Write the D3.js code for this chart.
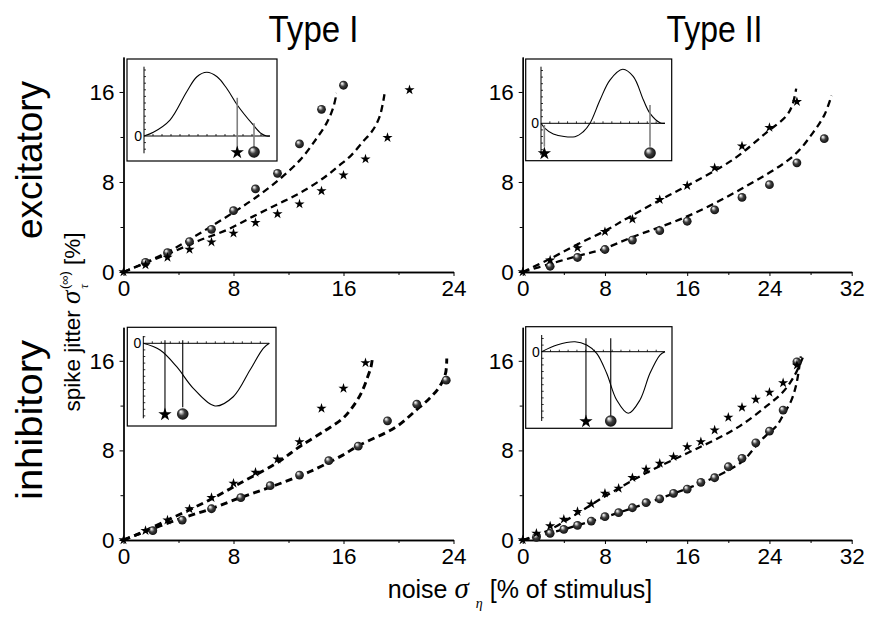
<!DOCTYPE html>
<html><head><meta charset="utf-8">
<script src="https://cdn.jsdelivr.net/npm/d3@7"></script>
<style>
body{margin:0;background:#fff}
svg{display:block}
text{font-family:"Liberation Sans",Arial,Helvetica,sans-serif;fill:#000}
</style>
</head><body>
<svg id="chart" width="869" height="618"></svg>
<script>
// ---------- tick labels ----------
const yTickVals = [0, 8, 16];
const yMinorVals = [4, 12];
const xTickValsI = [0, 8, 16, 24];
const xMinorValsI = [4, 12, 20];
const xTickValsII = [0, 8, 16, 24, 32];
const xMinorValsII = [4, 12, 20, 28];
const colTitles = ["Type I", "Type II"];
const rowTitles = ["excitatory", "inhibitory"];

// ---------- Type I, excitatory ----------
const exc1Spheres = [[1.6,0.86],[3.2,1.72],[4.8,2.7],[6.4,3.79],[8.0,5.45],[9.6,7.38],[11.2,8.77],[12.8,11.38],[14.4,14.46],[16.0,16.6]];
const exc1Stars = [[0,0],[1.6,0.62],[3.2,1.3],[4.8,2.0],[6.4,2.66],[8.0,3.44],[9.6,4.39],[11.2,5.16],[12.8,6.04],[14.4,7.2],[16.0,8.6],[17.6,10.04],[19.2,11.94],[20.8,16.18]];
const exc1SphereFit = [[0,0],[3.1,1.7],[5.5,3.4],[8.0,5.3],[9.6,6.6],[11.2,8.1],[12.8,9.9],[14.0,11.8],[14.8,13.3],[15.25,14.6],[15.5,15.9]];
const exc1StarFit = [[0,0],[3.8,1.9],[5.5,2.8],[7.5,3.73],[9.4,4.92],[11.1,5.96],[12.8,7.0],[14.6,8.4],[15.7,9.48],[16.56,10.37],[17.4,11.56],[18.13,12.6],[18.62,13.79],[18.86,14.98],[18.98,15.8]];

// ---------- Type II, excitatory ----------
const exc2Stars = [[0,0],[2.67,1.05],[5.33,2.15],[8.0,3.58],[10.67,4.69],[13.33,6.42],[16.0,7.67],[18.67,9.26],[21.33,11.19],[24.0,12.84],[26.67,15.13]];
const exc2Spheres = [[2.67,0.51],[5.33,1.29],[8.0,2.0],[10.67,2.84],[13.33,3.67],[16.0,4.51],[18.67,5.52],[21.33,6.63],[24.0,7.76],[26.67,9.7],[29.33,11.85]];
const exc2StarFit = [[0,0],[2.6,1.15],[5.3,2.45],[8.16,3.73],[10.43,4.92],[14.0,6.71],[15.6,7.47],[20.47,10.0],[23.7,12.39],[25.65,13.88],[26.25,14.9],[26.6,16.3]];
const exc2SphereFit = [[0,0],[2.6,0.7],[5.25,1.4],[7.5,1.94],[10.75,3.13],[15.94,4.92],[21.12,7.31],[26.3,10.3],[28.24,12.39],[29.38,14.03],[30.03,15.67]];

// ---------- Type I, inhibitory ----------
const inh1Stars = [[0,0],[1.6,0.83],[3.2,1.78],[4.8,2.77],[6.4,3.78],[8.0,5.06],[9.6,6.04],[11.2,7.22],[12.8,8.77],[14.4,11.75],[16.0,13.53],[17.6,15.82]];
const inh1Spheres = [[2.13,0.83],[4.27,1.78],[6.4,2.79],[8.53,3.78],[10.67,4.85],[12.8,5.8],[14.93,7.08],[17.07,8.38],[19.2,10.64],[21.33,12.13],[23.47,14.27]];
const inh1StarFit = [[0,0],[0.92,0.45],[3.5,1.95],[6.25,3.57],[8.67,5.2],[11.1,6.84],[12.8,8.32],[14.7,9.8],[15.95,10.86],[16.67,11.89],[17.28,13.09],[17.76,14.57],[18.0,15.46],[18.1,16.2]];
const inh1SphereFit = [[0,0],[0.92,0.45],[3.83,1.78],[6.25,2.74],[8.67,3.86],[11.1,4.91],[13.53,6.09],[15.95,7.58],[17.04,8.39],[19.83,10.1],[21.29,11.6],[22.25,12.64],[22.98,13.68],[23.42,14.87],[23.51,16.2]];

// ---------- Type II, inhibitory ----------
const inh2Stars = [[0,0],[1.33,0.6],[2.67,1.25],[4.0,1.85],[5.33,2.53],[6.67,3.21],[8.0,4.17],[9.33,4.61],[10.67,5.56],[12.0,6.3],[13.33,6.84],[14.67,7.43],[16.0,8.32],[17.33,8.77],[18.67,9.81],[20.0,10.95],[21.33,11.84],[22.67,12.55],[24.0,13.18],[25.33,14.03],[26.67,15.6]];
const inh2Spheres = [[1.33,0.24],[2.67,0.6],[4.0,0.95],[5.33,1.31],[6.67,1.69],[8.0,2.08],[9.33,2.44],[10.67,2.88],[12.0,3.33],[13.33,3.68],[14.67,4.17],[16.0,4.55],[17.33,5.15],[18.67,5.56],[20.0,6.54],[21.33,7.29],[22.67,8.68],[24.0,9.72],[25.33,11.6],[26.67,15.91]];
const inh2StarFit = [[0,0],[2.59,0.9],[7.93,3.86],[12.05,6.0],[15.94,7.73],[18.52,8.86],[21.12,10.17],[23.71,11.95],[25.33,13.23],[26.46,14.72],[27.27,16.35]];
const inh2SphereFit = [[0,0],[2.6,0.6],[5.3,1.3],[8.0,2.05],[10.67,2.85],[13.33,3.7],[16.0,4.6],[18.67,5.6],[21.33,7.0],[22.9,8.62],[23.71,9.37],[24.68,10.17],[25.33,11.15],[26.14,12.49],[26.63,13.98],[26.95,15.76],[27.05,16.4]];

// ---------- inset waveforms (phase 0..1, normalised amplitude) ----------
const insetExc1 = [[0,0],[0.074,0.058],[0.206,0.25],[0.339,0.695],[0.42,0.93],[0.498,1.0],[0.58,0.93],[0.656,0.749],[0.74,0.487],[0.867,0.173],[0.93,0.04],[0.974,0],[1,0]];
const insetExc2 = [[0,0],[0.032,-0.093],[0.099,-0.198],[0.274,-0.248],[0.341,-0.156],[0.395,0],[0.476,0.431],[0.556,0.801],[0.659,1.0],[0.745,0.863],[0.826,0.431],[0.879,0.185],[0.96,0.011],[1,0]];
const insetInh1 = [[0,0],[0.133,-0.107],[0.265,-0.373],[0.397,-0.718],[0.569,-1],[0.714,-0.852],[0.847,-0.426],[0.952,-0.08],[1,0]];
const insetInh2 = [[0,0],[0.124,0.109],[0.27,0.162],[0.365,0.109],[0.446,-0.026],[0.527,-0.351],[0.608,-0.784],[0.702,-1.0],[0.797,-0.784],[0.878,-0.351],[0.959,-0.054],[1,0]];
// stimulus phase of the star / sphere markers in each inset
const insetMarksExc1 = [0.74, 0.873];
const insetMarksExc2 = [0.027, 0.879];
const insetMarksInh1 = [0.172, 0.313];
const insetMarksInh2 = [0.359, 0.56];

// =====================================================================
const svg = d3.select("#chart");
const defs = svg.append("defs");
const grad = defs.append("radialGradient").attr("id","sph")
  .attr("cx","0.5").attr("cy","0.5").attr("r","0.6").attr("fx","0.32").attr("fy","0.28");
grad.append("stop").attr("offset","0%").attr("stop-color","#ffffff");
grad.append("stop").attr("offset","15%").attr("stop-color","#d0d0d0");
grad.append("stop").attr("offset","45%").attr("stop-color","#404040");
grad.append("stop").attr("offset","100%").attr("stop-color","#000000");

const panels = [
  {xr:[123.5,453.5], xmax:24, yr:[272,57.1], ymax:19.1, xt:xTickValsI, xm:xMinorValsI,
   stars:exc1Stars, spheres:exc1Spheres, fits:[exc1SphereFit, exc1StarFit], fw:2.3,
   inset:{box:[127,59,277,161], ax:[144,270], zero:136, unit:63.7, yax:[66.7,153.3], curve:insetExc1,
          marks:insetMarksExc1, lines:[[0.6,-0.204],[0.2,-0.204]], my:152.5, lc:"#808080", lw:1.6}},
  {xr:[522.7,851.7], xmax:32, yr:[272,57.1], ymax:19.1, xt:xTickValsII, xm:xMinorValsII,
   stars:exc2Stars, spheres:exc2Spheres, fits:[exc2StarFit, exc2SphereFit], fw:2.3,
   inset:{box:[525.7,59,671.7,160.7], ax:[541,665], zero:123.3, unit:54, yax:[66.7,155], curve:insetExc2,
          marks:insetMarksExc2, lines:[[-0.031,-0.433],[0.339,-0.433]], my:153.5, lc:"#808080", lw:1.6}},
  {xr:[123.5,453.5], xmax:24, yr:[540,327.2], ymax:19, xt:xTickValsI, xm:xMinorValsI,
   stars:inh1Stars, spheres:inh1Spheres, fits:[inh1StarFit, inh1SphereFit], fw:2.9,
   inset:{box:[127.3,327.3,276,426], ax:[143.3,269.3], zero:343.3, unit:62.7, yax:[336,418.3], curve:insetInh1,
          marks:insetMarksInh1, lines:[[0.05,-1.1],[0.05,-1.02]], my:414.5, lc:"#000", lw:1.1}},
  {xr:[522.7,851.7], xmax:32, yr:[540,327.2], ymax:19, xt:xTickValsII, xm:xMinorValsII,
   stars:inh2Stars, spheres:inh2Spheres, fits:[inh2StarFit, inh2SphereFit], fw:2.3,
   inset:{box:[525.7,326.7,672,428.3], ax:[541.7,665], zero:351.7, unit:61.6, yax:[335,421], curve:insetInh2,
          marks:insetMarksInh2, lines:[[0.218,-1.055],[0.218,-1.055]], my:421.5, lc:"#000", lw:1.1}}
];

const starSym = d3.symbol(d3.symbolStar, 32);
const starBig = d3.symbol(d3.symbolStar, 55);

function sphere(g, cx, cy, r){
  g.append("circle").attr("cx",cx).attr("cy",cy).attr("r",r).attr("fill","url(#sph)");
}

panels.forEach(p => {
  const g = svg.append("g");
  const x = d3.scaleLinear().domain([0,p.xmax]).range(p.xr);
  const y = d3.scaleLinear().domain([0,p.ymax]).range(p.yr);

  // inset first (behind data)
  const ins = p.inset;
  const ig = g.append("g");
  ig.append("rect").attr("x",ins.box[0]).attr("y",ins.box[1])
    .attr("width",ins.box[2]-ins.box[0]).attr("height",ins.box[3]-ins.box[1])
    .attr("fill","#fff").attr("stroke","#000").attr("stroke-width",1.2);
  const ix = d3.scaleLinear().domain([0,1]).range(ins.ax);
  const iy = d3.scaleLinear().domain([0,1]).range([ins.zero, ins.zero-ins.unit]);
  ig.append("line").attr("x1",ins.ax[0]).attr("x2",ins.ax[0]).attr("y1",ins.yax[0]).attr("y2",ins.yax[1])
    .attr("stroke","#000").attr("stroke-width",1);
  ig.append("line").attr("x1",ins.ax[0]).attr("x2",ins.ax[1]).attr("y1",ins.zero).attr("y2",ins.zero)
    .attr("stroke","#000").attr("stroke-width",1);
  d3.range(1,14).forEach(i=>{
    const xx = ix(i/14);
    ig.append("line").attr("x1",xx).attr("x2",xx).attr("y1",ins.zero).attr("y2",ins.zero-2)
      .attr("stroke","#000").attr("stroke-width",0.8);
  });
  for(let yy=ins.zero-6.6; yy>ins.yax[0]; yy-=6.6){
    ig.append("line").attr("x1",ins.ax[0]).attr("x2",ins.ax[0]+2).attr("y1",yy).attr("y2",yy)
      .attr("stroke","#000").attr("stroke-width",0.8);
  }
  for(let yy=ins.zero+6.6; yy<ins.yax[1]; yy+=6.6){
    ig.append("line").attr("x1",ins.ax[0]).attr("x2",ins.ax[0]+2).attr("y1",yy).attr("y2",yy)
      .attr("stroke","#000").attr("stroke-width",0.8);
  }
  ig.append("text").attr("x",ins.ax[0]-2).attr("y",ins.zero+5).attr("text-anchor","end")
    .attr("font-size",14).text("0");
  ig.append("path").datum(ins.curve)
    .attr("d", d3.line().x(d=>ix(d[0])).y(d=>iy(d[1])).curve(d3.curveCatmullRom.alpha(0.5)))
    .attr("fill","none").attr("stroke","#000").attr("stroke-width",1.1);
  ins.marks.forEach((m,i)=>{
    ig.append("line").attr("x1",ix(m)).attr("x2",ix(m))
      .attr("y1",iy(ins.lines[i][0])).attr("y2",iy(ins.lines[i][1]))
      .attr("stroke",ins.lc).attr("stroke-width",ins.lw);
  });
  ig.append("path").attr("d",starBig()).attr("transform",`translate(${ix(ins.marks[0])},${ins.my})`).attr("fill","#000");
  sphere(ig, ix(ins.marks[1]), ins.my-0.5, 5.8);

  // axes
  g.append("g").attr("transform",`translate(0,${p.yr[0]})`)
    .call(d3.axisBottom(x).tickValues(p.xt).tickSize(4).tickSizeOuter(0).tickPadding(4));
  g.append("g").attr("transform",`translate(0,${p.yr[0]})`)
    .call(d3.axisBottom(x).tickValues(p.xm).tickSize(3).tickSizeOuter(0).tickFormat(""));
  g.append("g").attr("transform",`translate(${p.xr[0]},0)`)
    .call(d3.axisLeft(y).tickValues(yTickVals).tickSize(4).tickSizeOuter(0).tickPadding(5));
  g.append("g").attr("transform",`translate(${p.xr[0]},0)`)
    .call(d3.axisLeft(y).tickValues(yMinorVals).tickSize(3).tickSizeOuter(0).tickFormat(""));
  g.selectAll(".domain").attr("stroke","#000").attr("stroke-width",1.3);
  g.selectAll(".tick line").attr("stroke","#000").attr("stroke-width",1);
  g.selectAll(".tick text").attr("font-size",22.5).attr("font-family","'Liberation Sans',Arial,sans-serif").attr("fill","#000");

  // fit curves
  const line = d3.line().x(d=>x(d[0])).y(d=>y(d[1])).curve(d3.curveCatmullRom.alpha(0.5));
  p.fits.forEach(f=>{
    g.append("path").datum(f).attr("d",line).attr("fill","none").attr("stroke","#000")
      .attr("stroke-width",p.fw).attr("stroke-dasharray","7,4.5");
  });

  // markers
  p.spheres.forEach(d=> sphere(g, x(d[0]), y(d[1]), 4.4));
  p.stars.forEach(d=>{
    g.append("path").attr("d",starSym()).attr("transform",`translate(${x(d[0])},${y(d[1])})`).attr("fill","#000");
  });
});

// column titles
svg.append("text").attr("x",313.5).attr("y",42).attr("text-anchor","middle").attr("font-size",37)
  .attr("textLength",90).attr("lengthAdjust","spacingAndGlyphs").text(colTitles[0]);
svg.append("text").attr("x",714.5).attr("y",42).attr("text-anchor","middle").attr("font-size",37)
  .attr("textLength",96).attr("lengthAdjust","spacingAndGlyphs").text(colTitles[1]);
// row titles
svg.append("text").attr("transform","translate(42,160) rotate(-90)").attr("text-anchor","middle")
  .attr("font-size",37).attr("textLength",158).attr("lengthAdjust","spacingAndGlyphs").text(rowTitles[0]);
svg.append("text").attr("transform","translate(42,420) rotate(-90)").attr("text-anchor","middle")
  .attr("font-size",37).attr("textLength",160).attr("lengthAdjust","spacingAndGlyphs").text(rowTitles[1]);

// y-axis label
const yl = svg.append("text").attr("transform","translate(80,322) rotate(-90)").attr("text-anchor","middle").attr("font-size",22.5);
yl.append("tspan").text("spike jitter ");
yl.append("tspan").attr("font-family","'Liberation Serif',serif").attr("font-style","italic").attr("font-size",27).text("σ");
yl.append("tspan").attr("font-family","'Liberation Serif',serif").attr("font-style","italic").attr("font-size",13).attr("dx",2).attr("dy",8).text("τ");
yl.append("tspan").attr("font-size",13).attr("dx",-5).attr("dy",-19).text("(∞)");
yl.append("tspan").attr("dy",11).text(" [%]");

// x-axis label
const xl = svg.append("text").attr("x",520).attr("y",598).attr("text-anchor","middle").attr("font-size",25);
xl.append("tspan").text("noise ");
xl.append("tspan").attr("font-family","'Liberation Serif',serif").attr("font-style","italic").attr("font-size",29).text("σ");
xl.append("tspan").attr("font-family","'Liberation Serif',serif").attr("font-style","italic").attr("font-size",14).attr("dx",7).attr("dy",10).text("η");
xl.append("tspan").attr("dy",-10).text(" [% of stimulus]");
</script>
</body></html>
